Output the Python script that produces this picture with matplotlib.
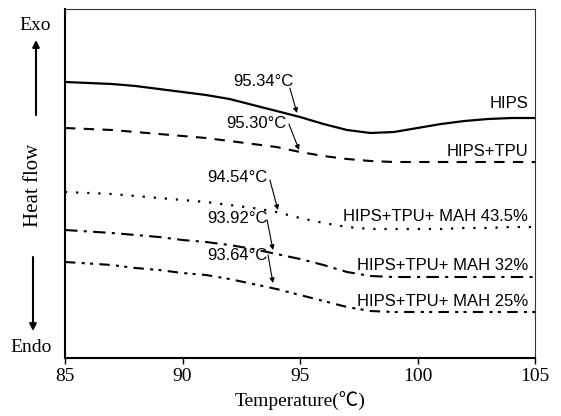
import matplotlib.pyplot as plt

# temperature grid (deg C) and heat flow traces (arbitrary units)
temps = [85, 87, 88, 89, 90, 91, 92, 93, 94, 95, 96, 97, 98, 99, 100, 101, 102, 103, 104, 105]
hips = [27.6, 27.4, 27.2, 26.9, 26.6, 26.3, 25.9, 25.3, 24.7, 24.1, 23.4, 22.8, 22.5, 22.6, 23.0, 23.4, 23.7, 23.9, 24.0, 24.0]
hips_tpu = [23.0, 22.8, 22.6, 22.4, 22.2, 22.0, 21.7, 21.4, 21.1, 20.6, 20.2, 19.9, 19.7, 19.6, 19.6, 19.6, 19.6, 19.6, 19.6, 19.6]
mah_435 = [16.6, 16.4, 16.2, 16.0, 15.8, 15.6, 15.3, 15.0, 14.6, 14.0, 13.5, 13.1, 12.9, 12.9, 12.9, 12.9, 13.0, 13.0, 13.1, 13.1]
mah_32 = [12.8, 12.5, 12.3, 12.1, 11.8, 11.6, 11.3, 10.9, 10.4, 9.9, 9.3, 8.6, 8.2, 8.1, 8.1, 8.1, 8.1, 8.1, 8.1, 8.1]
mah_25 = [9.6, 9.3, 9.0, 8.8, 8.5, 8.3, 7.9, 7.4, 6.9, 6.3, 5.7, 5.1, 4.7, 4.6, 4.6, 4.6, 4.6, 4.6, 4.6, 4.6]

series_names = ["HIPS", "HIPS+TPU", "HIPS+TPU+ MAH 43.5%", "HIPS+TPU+ MAH 32%", "HIPS+TPU+ MAH 25%"]
label_y = [25.4, 20.7, 14.2, 9.3, 5.7]

# glass transition labels: text, text position, arrow start, arrow tip
tg_labels = ["95.34°C", "95.30°C", "94.54°C", "93.92°C", "93.64°C"]
tg_text_xy = [(93.43, 27.6), (93.13, 23.5), (92.32, 18.1), (92.32, 14.0), (92.32, 10.2)]
tg_from = [(94.57, 27.0), (94.53, 23.4), (93.72, 17.8), (93.60, 13.8), (93.64, 10.3)]
tg_to = [(94.87, 24.5), (94.96, 20.8), (94.06, 14.8), (93.85, 10.8), (93.85, 7.5)]

sans = "Liberation Sans"
serif = ["Liberation Serif", "Noto Sans CJK SC"]

fig = plt.figure(figsize=(5.61, 4.16), dpi=100)
ax = fig.add_axes([65 / 561, 1 - 358 / 416, 470 / 561, 349 / 416])

styles = [
    dict(ls="-", lw=1.6),
    dict(ls=(0, (5, 4)), lw=1.5),
    dict(ls=(0, (1, 4)), lw=1.6),
    dict(ls=(0, (6, 3, 1.5, 3)), lw=1.5),
    dict(ls=(0, (5, 3, 1.5, 2.5, 1.5, 3)), lw=1.5),
]
for ys, st in zip([hips, hips_tpu, mah_435, mah_32, mah_25], styles):
    ax.plot(temps, ys, color="black", **st)

for name, y in zip(series_names, label_y):
    ax.text(104.7, y, name, ha="right", va="center", fontsize=12, family=sans)

for lab, txy, a, b in zip(tg_labels, tg_text_xy, tg_from, tg_to):
    ax.text(txy[0], txy[1], lab, ha="center", va="center", fontsize=12, family=sans)
    ax.annotate("", xy=b, xytext=a,
                arrowprops=dict(arrowstyle="-|>", color="black", lw=0.8,
                                mutation_scale=7, shrinkA=0, shrinkB=0))

ax.set_xlim(85, 105)
ax.set_ylim(0, 34.9)
ax.set_xticks([85, 90, 95, 100, 105])
ax.set_yticks([])
ax.tick_params(axis="x", direction="out", length=4, width=1, labelsize=14, pad=3)
for lbl in ax.get_xticklabels():
    lbl.set_family(serif)

for side in ["left", "bottom"]:
    ax.spines[side].set_linewidth(1.5)
for side in ["top", "right"]:
    ax.spines[side].set_linewidth(0.8)
    ax.spines[side].set_color("#333333")

ax.set_xlabel("Temperature(℃)", fontsize=14, family=serif, labelpad=5)

# Exo / Endo side labels with arrows
fig.text(35 / 561, 1 - 25 / 416, "Exo", ha="center", va="center", fontsize=14, family=serif)
fig.text(31 / 561, 1 - 347 / 416, "Endo", ha="center", va="center", fontsize=14, family=serif)
fig.text(34 / 561, 1 - 185 / 416, "Heat flow", ha="center", va="center", rotation=90,
         fontsize=15, family=serif)
fig.add_artist(plt.Annotation("", xy=(36 / 561, 1 - 40 / 416), xytext=(36 / 561, 1 - 115 / 416),
                              xycoords="figure fraction", textcoords="figure fraction",
                              arrowprops=dict(arrowstyle="-|>", color="black", lw=1.5,
                                              mutation_scale=10, shrinkA=0, shrinkB=0)))
fig.add_artist(plt.Annotation("", xy=(33 / 561, 1 - 331 / 416), xytext=(33 / 561, 1 - 257 / 416),
                              xycoords="figure fraction", textcoords="figure fraction",
                              arrowprops=dict(arrowstyle="-|>", color="black", lw=1.5,
                                              mutation_scale=10, shrinkA=0, shrinkB=0)))

fig.savefig("out.png", dpi=100)
